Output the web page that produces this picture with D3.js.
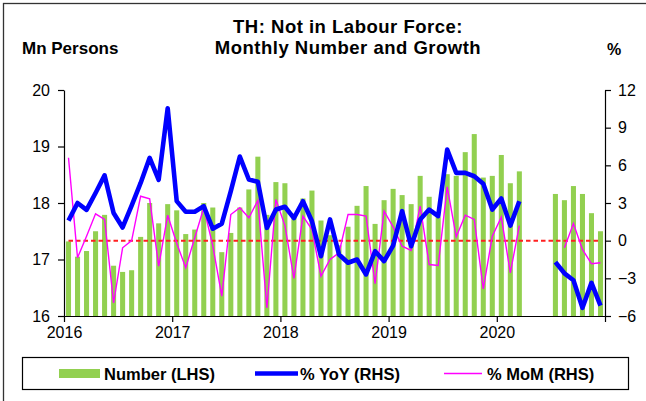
<!DOCTYPE html>
<html><head><meta charset="utf-8">
<script src="https://cdn.jsdelivr.net/npm/d3@7"></script>
<style>
html,body{margin:0;padding:0;background:#fff;}
svg{display:block;font-family:"Liberation Sans",Arial,sans-serif;}
</style></head>
<body>
<svg id="c" width="646" height="401"></svg>
<script>
// ---- data ----
const months = [];
for (let y = 2016; y <= 2020; y++) for (let m = 1; m <= 12; m++) months.push(y + "-" + String(m).padStart(2, "0"));

const number = [
  17.32, 17.05, 17.15, 17.50, 17.79, 16.89, 16.78, 16.81, 17.40, 18.00, 17.64, 17.98,
  17.87, 17.45, 17.53, 18.00, 17.92, 17.13, 17.47, 17.92, 18.24, 18.82, 17.79, 18.37,
  18.35, 17.81, 18.08, 18.22, 17.69, 17.43, 17.25, 17.58, 17.95, 18.30, 17.63, 18.05,
  18.25, 18.14, 17.98, 18.48, 18.11, 17.75, 18.51, 18.48, 18.90, 19.22, 18.45, 18.48,
  18.85, 18.35, 18.56, null, null, null, 18.16, 18.05, 18.30, 18.16, 17.82, 17.50
];
const yoy = [
  1.6, 3.0, 2.45, 3.8, 5.2, 2.2, 1.05, 2.8, 4.6, 6.6, 4.85, 10.55,
  3.15, 2.3, 2.3, 2.75, 0.95, 1.35, 3.94, 6.7, 4.87, 4.69, 1.02, 2.48,
  2.7, 1.8, 3.14, 1.55, -1.24, 1.69, -1.1, -1.76, -1.5, -2.69, -0.84, -1.63,
  -0.4, 2.35, -0.44, 1.69, 2.48, 1.95, 7.26, 5.4, 5.4, 5.13, 4.53, 2.48,
  3.36, 1.2, 3.14, null, null, null, -1.71, -2.6, -3.15, -5.35, -3.36, -5.17
];
const mom = [
  6.6, -1.36, 0.36, 2.14, 1.69, -4.95, -0.57, 0.01, 3.54, 3.33, -2.03, 2.03,
  -0.2, -2.16, 0.23, 2.62, -0.4, -4.42, 2.08, 2.62, 1.82, 3.2, -5.35, 3.28,
  1.2, -3.0, 1.95, 0.89, -2.83, -1.5, -0.97, 2.08, 2.08, 1.95, -3.43, 2.35,
  1.1, -0.44, -0.78, 2.75, -1.9, -1.98, 4.29, 0.31, 2.03, 1.69, -3.84, 0.36,
  1.87, -2.56, 1.2, null, null, null, null, -0.56, 1.37, -0.7, -1.84, -1.76
];
const leftTicks = [16, 17, 18, 19, 20];
const rightTicks = [-6, -3, 0, 3, 6, 9, 12];
const yearTicks = [0, 12, 24, 36, 48, 60];
const yearLabels = ["2016", "2017", "2018", "2019", "2020", ""];

const titleLines = ["TH: Not in Labour Force:", "Monthly Number and Growth"];
const leftUnit = "Mn Persons", rightUnit = "%";
const legendLabels = ["Number (LHS)", "% YoY (RHS)", "% MoM (RHS)"];

// ---- layout ----
const L = 64, R = 605, T = 90, B = 316;
const svg = d3.select("#c");
const font = '"Liberation Sans",Arial,sans-serif';

svg.append("rect").attr("x", 3.5).attr("y", 3.5).attr("width", 700).attr("height", 500)
  .attr("fill", "none").attr("stroke", "#333").attr("stroke-width", 1.3);

const x = d3.scaleBand().domain(months).range([L, R]).paddingInner(0.44).paddingOuter(0.22);
const xi = d3.scaleLinear().domain([0, 60]).range([L, R]);
const yL = d3.scaleLinear().domain([16, 20]).range([B, T]);
const yR = d3.scaleLinear().domain([-6, 12]).range([B, T]);
const cx = i => x(months[i]) + x.bandwidth() / 2;

// bars
svg.append("g").selectAll("rect").data(number.map((v, i) => ({ v, i })).filter(d => d.v != null))
  .join("rect")
  .attr("x", d => x(months[d.i])).attr("width", x.bandwidth())
  .attr("y", d => yL(d.v)).attr("height", d => yL(16) - yL(d.v))
  .attr("fill", "#92D050");

// zero dashed line
svg.append("line").attr("x1", cx(0)).attr("x2", cx(59)).attr("y1", yR(0)).attr("y2", yR(0))
  .attr("stroke", "#FF2020").attr("stroke-width", 2).attr("stroke-dasharray", "4.5,3");

// lines
const lineR = d3.line().defined(d => d.v != null).x(d => cx(d.i)).y(d => yR(d.v));
svg.append("path").datum(mom.map((v, i) => ({ v, i })))
  .attr("d", lineR).attr("fill", "none").attr("stroke", "#FF00FF").attr("stroke-width", 1.4);
svg.append("path").datum(yoy.map((v, i) => ({ v, i })))
  .attr("d", lineR).attr("fill", "none").attr("stroke", "#0000FF").attr("stroke-width", 4.6)
  .attr("stroke-linejoin", "round");

// axes
function styleAxis(g, size) {
  g.selectAll("path,line").attr("stroke", "#000").attr("stroke-width", 1.2);
  g.selectAll("text").attr("font-family", font).attr("font-size", size).attr("fill", "#000");
}
svg.append("g").attr("transform", `translate(${L},0)`)
  .call(d3.axisLeft(yL).tickValues(leftTicks).tickFormat(d3.format("d")).tickSize(6).tickSizeOuter(0).tickPadding(8))
  .call(g => styleAxis(g, 16));
svg.append("g").attr("transform", `translate(${R},0)`)
  .call(d3.axisRight(yR).tickValues(rightTicks).tickFormat(d3.format("d")).tickSize(6).tickSizeOuter(0).tickPadding(7))
  .call(g => styleAxis(g, 16));
svg.append("g").attr("transform", `translate(0,${B})`)
  .call(d3.axisBottom(xi).tickValues(yearTicks).tickFormat((d, k) => yearLabels[k]).tickSize(6).tickSizeOuter(0).tickPadding(5))
  .call(g => styleAxis(g, 16));

// titles
svg.append("text").attr("x", 348).attr("y", 32.5).attr("text-anchor", "middle")
  .attr("font-size", 18.5).attr("font-weight", "bold").attr("letter-spacing", 0.5).text(titleLines[0]);
svg.append("text").attr("x", 348).attr("y", 54).attr("text-anchor", "middle")
  .attr("font-size", 18.5).attr("font-weight", "bold").attr("letter-spacing", 0.5).text(titleLines[1]);
svg.append("text").attr("x", 22).attr("y", 54).attr("font-size", 17).attr("font-weight", "bold").text(leftUnit);
svg.append("text").attr("x", 607).attr("y", 55).attr("font-size", 16).attr("font-weight", "bold").text(rightUnit);

// legend
const lg = svg.append("g");
lg.append("rect").attr("x", 22.5).attr("y", 357.5).attr("width", 606).attr("height", 32)
  .attr("fill", "#fff").attr("stroke", "#000").attr("stroke-width", 1.2);
const ly = 373.5;
lg.append("rect").attr("x", 59).attr("y", ly - 4.5).attr("width", 41).attr("height", 9).attr("fill", "#92D050");
lg.append("line").attr("x1", 255).attr("x2", 298).attr("y1", ly).attr("y2", ly).attr("stroke", "#0000FF").attr("stroke-width", 4.6);
lg.append("line").attr("x1", 444).attr("x2", 482).attr("y1", ly).attr("y2", ly).attr("stroke", "#FF00FF").attr("stroke-width", 1.4);
const lx = [104, 300, 487];
legendLabels.forEach((t, k) => lg.append("text").attr("x", lx[k]).attr("y", ly + 6)
  .attr("font-size", 16.5).attr("font-weight", "bold").text(t));
</script>
</body></html>
